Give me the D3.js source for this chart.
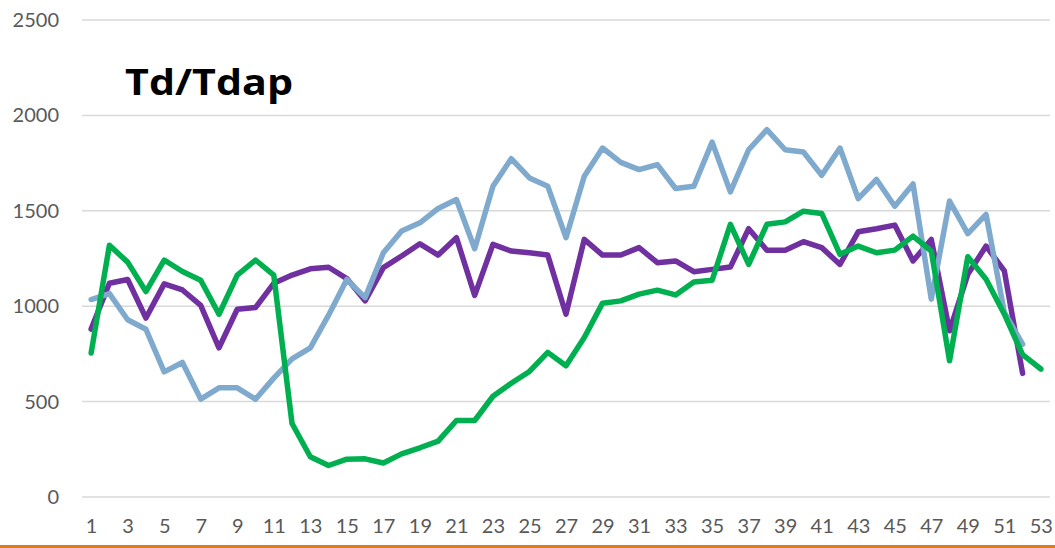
<!DOCTYPE html>
<html>
<head>
<meta charset="utf-8">
<script src="https://cdn.jsdelivr.net/npm/d3@7"></script>
<style>
  body { margin: 0; background: #fff; }
  svg { display: block; }
</style>
</head>
<body>
<svg width="1055" height="548"></svg>
<script>
const width = 1055;
const height = 548;

// week numbers 1..53
const weeks = d3.range(1, 54);
const yTicks = [0, 500, 1000, 1500, 2000, 2500];

const purpleSeries = [880, 1120, 1140, 938, 1117, 1085, 1004, 782, 984, 993,
  1120, 1163, 1196, 1204, 1145, 1028, 1202, 1263, 1327, 1268,
  1359, 1057, 1324, 1289, 1280, 1268, 958, 1350, 1268, 1268,
  1307, 1228, 1237, 1181, 1193, 1205, 1406, 1293, 1293, 1338,
  1307, 1219, 1390, 1406, 1425, 1237, 1350, 871, 1167, 1315,
  1185, 648];

const blueSeries = [1035, 1066, 929, 879, 656, 705, 513, 572, 572, 513,
  623, 724, 782, 953, 1140, 1045, 1280, 1394, 1437, 1512,
  1559, 1301, 1629, 1773, 1672, 1629, 1359, 1681, 1829, 1754,
  1716, 1742, 1617, 1629, 1860, 1599, 1820, 1925, 1820, 1808,
  1686, 1829, 1564, 1664, 1524, 1641, 1037, 1551, 1380, 1481,
  967, 801];

const greenSeries = [755, 1319, 1231, 1077, 1242, 1182, 1136, 958, 1163, 1242,
  1163, 385, 211, 165, 198, 200, 178, 226, 258, 293,
  401, 401, 528, 596, 658, 758, 688, 836, 1016, 1028,
  1063, 1084, 1059, 1127, 1136, 1429, 1219, 1429, 1442, 1498,
  1486, 1272, 1315, 1280, 1294, 1367, 1289, 714, 1259, 1141,
  958, 746, 671];

const series = [
  {name: "purple", values: purpleSeries, color: "#7030a0"},
  {name: "blue", values: blueSeries, color: "#7faacd"},
  {name: "green", values: greenSeries, color: "#00b050"}
];

const margin = {top: 20, right: 5, bottom: 51, left: 82};
const plotW = 1050 - margin.left;
const plotH = 497 - margin.top;

const svg = d3.select("svg");

const x = d3.scalePoint()
    .domain(weeks)
    .range([margin.left, margin.left + plotW])
    .padding(0.5);

const y = d3.scaleLinear()
    .domain([0, 2500])
    .range([margin.top + plotH, margin.top]);

// gridlines
svg.append("g")
    .selectAll("line")
    .data(yTicks)
    .join("line")
    .attr("x1", margin.left)
    .attr("x2", margin.left + plotW)
    .attr("y1", d => y(d))
    .attr("y2", d => y(d))
    .attr("stroke", "#d9d9d9")
    .attr("stroke-width", 1.5);

// y axis labels
const yAxis = svg.append("g")
    .attr("transform", `translate(${margin.left - 23}, 0)`)
    .call(d3.axisLeft(y).tickValues(yTicks).tickFormat(d3.format("d")).tickSize(0).tickPadding(0));
yAxis.select(".domain").remove();
yAxis.selectAll("text")
    .attr("font-family", "Lato, 'Open Sans', sans-serif")
    .attr("font-size", "20px")
    .attr("fill", "#595959");

// x axis labels (odd weeks only)
const xAxis = svg.append("g")
    .attr("transform", `translate(0, ${margin.top + plotH + 22})`)
    .call(d3.axisBottom(x).tickValues(weeks.filter(d => d % 2 === 1)).tickSize(0).tickPadding(0));
xAxis.select(".domain").remove();
xAxis.selectAll("text")
    .attr("font-family", "Lato, 'Open Sans', sans-serif")
    .attr("font-size", "20px")
    .attr("fill", "#595959");

const line = d3.line()
    .x((d, i) => x(weeks[i]))
    .y(d => y(d));

svg.append("g")
    .selectAll("path")
    .data(series)
    .join("path")
    .attr("d", d => line(d.values))
    .attr("fill", "none")
    .attr("stroke", d => d.color)
    .attr("stroke-width", 5.5)
    .attr("stroke-linejoin", "round")
    .attr("stroke-linecap", "round");

// title
svg.append("text")
    .attr("x", 125)
    .attr("y", 95)
    .attr("font-family", "'Open Sans', Lato, sans-serif")
    .attr("font-weight", "bold")
    .attr("font-size", "35px")
    .attr("textLength", 168)
    .attr("lengthAdjust", "spacingAndGlyphs")
    .attr("fill", "#000")
    .text("Td/Tdap");

// orange rule along the bottom
svg.append("rect")
    .attr("x", 0)
    .attr("y", 545)
    .attr("width", width)
    .attr("height", 3)
    .attr("fill", "#e07b1a");
</script>
</body>
</html>
